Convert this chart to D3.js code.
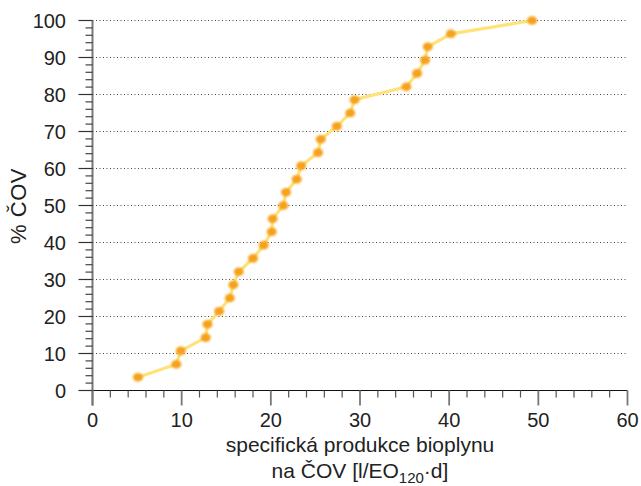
<!DOCTYPE html>
<html><head><meta charset="utf-8">
<script src="https://cdn.jsdelivr.net/npm/d3@7"></script>
<style>body{margin:0;background:#fff}svg{display:block}text{font-family:"Liberation Sans",Arial,sans-serif;fill:#222}</style>
</head><body>
<svg id="c" width="641" height="486"></svg>
<script>
const xValues = [5.1, 9.4, 9.9, 12.7, 12.9, 14.2, 15.4, 15.8, 16.4, 18.0, 19.2, 20.1, 20.2, 21.4, 21.7, 22.9, 23.4, 25.3, 25.6, 27.4, 28.9, 29.4, 35.2, 36.4, 37.3, 37.6, 40.2, 49.3];
const yValues = [3.6, 7.1, 10.7, 14.3, 17.9, 21.4, 25.0, 28.6, 32.1, 35.7, 39.3, 42.9, 46.4, 50.0, 53.6, 57.1, 60.7, 64.3, 67.9, 71.4, 75.0, 78.6, 82.1, 85.7, 89.3, 92.9, 96.4, 100];
const xTicks = [0, 10, 20, 30, 40, 50, 60];
const yTicks = [0, 10, 20, 30, 40, 50, 60, 70, 80, 90, 100];

const svg = d3.select("#c");
const x = d3.scaleLinear().domain([0, 60]).range([92.5, 627.5]);
const y = d3.scaleLinear().domain([0, 100]).range([390.5, 20.5]);

const defs = svg.append("defs");
defs.append("filter").attr("id","blur").attr("x","-50%").attr("y","-50%").attr("width","200%").attr("height","200%")
  .append("feGaussianBlur").attr("stdDeviation", 0.9);
defs.append("filter").attr("id","blurL").append("feGaussianBlur").attr("stdDeviation", 0.6);

// grid
svg.append("g").selectAll("line").data(yTicks.filter(d => d > 0)).join("line")
  .attr("x1", x(0)).attr("x2", x(60)).attr("y1", d => y(d)).attr("y2", d => y(d))
  .attr("stroke", "#444").attr("stroke-width", 1).attr("stroke-dasharray", "1,2.5");

// x axis
const xMinor = d3.range(0, 61, 2);
const gx = svg.append("g");
gx.append("line").attr("x1", x(0)).attr("x2", x(60)).attr("y1", y(0)).attr("y2", y(0)).attr("stroke", "#111").attr("stroke-width", 1.2);
gx.selectAll("line.mi").data(xMinor.filter(d => d % 10 !== 0)).join("line").attr("class","mi")
  .attr("x1", d => x(d)).attr("x2", d => x(d)).attr("y1", y(0)).attr("y2", y(0) + 7).attr("stroke", "#555").attr("stroke-width", 1.2);
gx.selectAll("line.ma").data(xTicks).join("line").attr("class","ma")
  .attr("x1", d => x(d)).attr("x2", d => x(d)).attr("y1", y(0)).attr("y2", y(0) + 15).attr("stroke", "#777").attr("stroke-width", 1.8);
gx.selectAll("text").data(xTicks).join("text")
  .attr("x", d => x(d)).attr("y", 427).attr("text-anchor", "middle").attr("font-size", 20).text(d => d);

// y axis
const yMinor = d3.range(0, 101, 2);
const gy = svg.append("g");
gy.append("line").attr("x1", x(0)).attr("x2", x(0)).attr("y1", y(0) + 15).attr("y2", y(100)).attr("stroke", "#777").attr("stroke-width", 2);
gy.selectAll("line.mi").data(yMinor.filter(d => d % 10 !== 0)).join("line").attr("class","mi")
  .attr("x1", x(0) - 7).attr("x2", x(0)).attr("y1", d => y(d)).attr("y2", d => y(d)).attr("stroke", "#444").attr("stroke-width", 1.2);
gy.selectAll("line.ma").data(yTicks).join("line").attr("class","ma")
  .attr("x1", x(0) - 14).attr("x2", x(0)).attr("y1", d => y(d)).attr("y2", d => y(d)).attr("stroke", "#333").attr("stroke-width", 1.2);
gy.selectAll("text").data(yTicks).join("text")
  .attr("x", 66).attr("y", d => y(d) + 7).attr("text-anchor", "end").attr("font-size", 20).text(d => d);

// axis titles
svg.append("text").attr("transform", "translate(26,206) rotate(-90)").attr("text-anchor", "middle").attr("font-size", 22).attr("letter-spacing", 0.5).text("% ČOV");
svg.append("text").attr("x", 360).attr("y", 452).attr("text-anchor", "middle").attr("font-size", 21).text("specifická produkce bioplynu");
const t2 = svg.append("text").attr("x", 360).attr("y", 478).attr("text-anchor", "middle").attr("font-size", 21);
t2.append("tspan").text("na ČOV [l/EO");
t2.append("tspan").attr("font-size", 15).attr("dy", 5).text("120");
t2.append("tspan").attr("dy", -5).text("·d]");

// data
const pts = xValues.map((v, i) => [v, yValues[i]]);
svg.append("path").datum(pts)
  .attr("d", d3.line().x(d => x(d[0])).y(d => y(d[1])))
  .attr("fill", "none").attr("stroke", "#ffe27a").attr("stroke-width", 3.2).attr("filter", "url(#blurL)");
svg.append("g").attr("filter", "url(#blur)").selectAll("ellipse").data(pts).join("ellipse")
  .attr("cx", d => x(d[0])).attr("cy", d => y(d[1])).attr("rx", 5).attr("ry", 4.3)
  .attr("fill", "#f6a11c");
</script>
</body></html>
